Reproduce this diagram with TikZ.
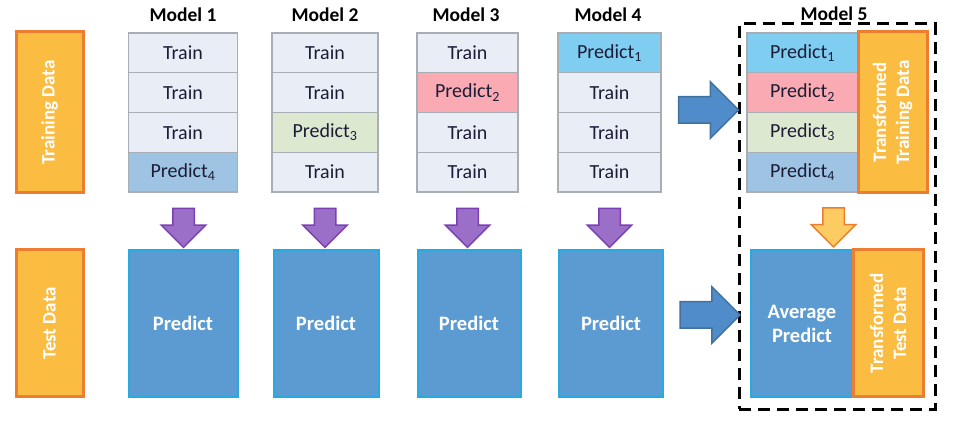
\documentclass[tikz,border=0pt]{standalone}
\usepackage{fontspec}
\setmainfont{Carlito}
\usetikzlibrary{shapes.arrows}

\definecolor{databg}{HTML}{FABC41}
\definecolor{dataline}{HTML}{ED7D31}
\definecolor{trainbg}{HTML}{E9EEF6}
\definecolor{cellline}{HTML}{A9AEB5}
\definecolor{celltext}{HTML}{1C1C36}
\definecolor{predA}{HTML}{7FCDF0}
\definecolor{predB}{HTML}{F9AAB2}
\definecolor{predC}{HTML}{DCE8CF}
\definecolor{predD}{HTML}{9EC3E3}
\definecolor{boxbg}{HTML}{5B9BD1}
\definecolor{boxline}{HTML}{27AAE1}
\definecolor{purplebg}{HTML}{9B6FC8}
\definecolor{purpleline}{HTML}{7A3FB0}
\definecolor{bluebg}{HTML}{4F8CC9}
\definecolor{blueline}{HTML}{41719C}
\definecolor{orangebg}{HTML}{FCCB62}

\begin{document}
\begin{tikzpicture}[x=1pt,y=-1pt,
    databox/.style={draw=dataline,fill=databg,line width=3pt,rotate=90,text=white,
      font=\fontsize{19}{23}\selectfont\bfseries,align=center,inner sep=0pt},
    cell/.style={draw=cellline,line width=1.2pt,minimum height=39.75pt,inner sep=0pt,
      text=celltext,font=\fontsize{20}{22}\selectfont},
    predbox/.style={draw=boxline,fill=boxbg,line width=2pt,minimum height=147pt,inner sep=0pt,
      text=white,font=\fontsize{20.5}{24}\selectfont\bfseries,align=center},
    modellabel/.style={font=\fontsize{19.5}{20}\selectfont\bfseries,fill=white,inner sep=1pt},
    downarrow/.style={single arrow,shape border rotate=270,line width=1.5pt,inner sep=10pt,
      minimum height=39pt,minimum width=43pt,single arrow head extend=11.5pt},
    rightarrow/.style={single arrow,draw=blueline,fill=bluebg,line width=1.5pt,inner sep=12.5pt,
      minimum height=60pt,minimum width=55pt,single arrow head extend=15pt}]

  \useasboundingbox (0,0) rectangle (959,438);

  % data on the left
  \node[databox,minimum width=161pt,minimum height=67pt] (train) at (49.5,112.5) {Training Data};
  \node[databox,minimum width=147pt,minimum height=67pt] (test)  at (49.5,323.5) {Test Data};

  % model 5 frame
  \node[draw,dashed,dash pattern=on 12pt off 7pt,line width=3pt,minimum width=196pt,
        minimum height=385pt,inner sep=0pt] (frame) at (837,216.5) {};

  \node[modellabel] (l1) at (183,15)   {Model 1};
  \node[modellabel] (l2) at (325,15)   {Model 2};
  \node[modellabel] (l3) at (466,15)   {Model 3};
  \node[modellabel] (l4) at (608,15)   {Model 4};
  \node[modellabel] (l5) at (834,14)   {Model 5};

  \begin{scope}[every node/.append style={cell,minimum width=109pt}]
    \node[fill=trainbg] (a1) at (183,52.9)  {Train};
    \node[fill=trainbg] (a2) at (183,92.6)  {Train};
    \node[fill=trainbg] (a3) at (183,132.4) {Train};
    \node[fill=predD]   (a4) at (183,172.1) {Predict\textsubscript{4}};
  \end{scope}
  \begin{scope}[every node/.append style={cell,minimum width=106pt}]
    \node[fill=trainbg] (b1) at (325,52.9)  {Train};
    \node[fill=trainbg] (b2) at (325,92.6)  {Train};
    \node[fill=predC]   (b3) at (325,132.4) {Predict\textsubscript{3}};
    \node[fill=trainbg] (b4) at (325,172.1) {Train};
  \end{scope}
  \begin{scope}[every node/.append style={cell,minimum width=101pt}]
    \node[fill=trainbg] (c1) at (467.5,52.9)  {Train};
    \node[fill=predB]   (c2) at (467.5,92.6)  {Predict\textsubscript{2}};
    \node[fill=trainbg] (c3) at (467.5,132.4) {Train};
    \node[fill=trainbg] (c4) at (467.5,172.1) {Train};
  \end{scope}
  \begin{scope}[every node/.append style={cell,minimum width=103pt}]
    \node[fill=predA]   (d1) at (609.5,52.9)  {Predict\textsubscript{1}};
    \node[fill=trainbg] (d2) at (609.5,92.6)  {Train};
    \node[fill=trainbg] (d3) at (609.5,132.4) {Train};
    \node[fill=trainbg] (d4) at (609.5,172.1) {Train};
  \end{scope}
  \begin{scope}[every node/.append style={cell,minimum width=111pt}]
    \node[fill=predA] (e1) at (802.5,52.9)  {Predict\textsubscript{1}};
    \node[fill=predB] (e2) at (802.5,92.6)  {Predict\textsubscript{2}};
    \node[fill=predC] (e3) at (802.5,132.4) {Predict\textsubscript{3}};
    \node[fill=predD] (e4) at (802.5,172.1) {Predict\textsubscript{4}};
  \end{scope}
  \node[databox,minimum width=161pt,minimum height=69pt] (ttrain) at (892.5,112.5)
    {Transformed\\Training Data};

  % predictions on the test data
  \node[predbox,minimum width=109pt] (p1) at (183,323.5)   {Predict};
  \node[predbox,minimum width=105pt] (p2) at (326,323.5)   {Predict};
  \node[predbox,minimum width=103pt] (p3) at (469,323.5)   {Predict};
  \node[predbox,minimum width=104pt] (p4) at (611,323.5)   {Predict};
  \node[predbox,minimum width=102pt] (p5) at (802,323.5)   {Average\\Predict};
  \node[databox,minimum width=147pt,minimum height=70pt] (ttest) at (888,323.5)
    {Transformed\\Test Data};

  % block arrows
  \begin{scope}[every node/.style={downarrow,draw=purpleline,fill=purplebg}]
    \node (s1) at (183.5,222.5) {};
    \node (s2) at (325,222.5)   {};
    \node (s3) at (467.5,222.5) {};
    \node (s4) at (609.5,222.5) {};
  \end{scope}
  \node[downarrow,draw=dataline,fill=orangebg] (s5) at (833.5,222) {};
  \node[rightarrow] (r1) at (702,110)   {};
  \node[rightarrow] (r2) at (703.5,315) {};

\end{tikzpicture}
\end{document}
